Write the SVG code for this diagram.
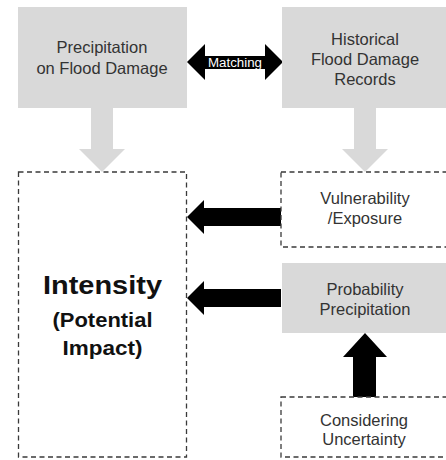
<svg xmlns="http://www.w3.org/2000/svg" width="446" height="460" viewBox="0 0 446 460">
  <style>
    .gray { fill: #d9d9d9; }
    .dash { fill: #ffffff; stroke: #3a3a3a; stroke-width: 1.3; stroke-dasharray: 5 3.5; }
    .lbl { font-family: "Liberation Sans", Arial, sans-serif; font-size: 16.5px; fill: #333333; text-anchor: middle; }
    .big { font-family: "Liberation Sans", Arial, sans-serif; font-weight: bold; fill: #111111; text-anchor: middle; }
    .blk { fill: #000000; }
    .lt { fill: #d9d9d9; }
  </style>
  <rect width="446" height="460" fill="#ffffff"/>

  <g id="connectors">
    <!-- light down arrows -->
    <polygon class="lt" points="91,108 113,108 113,149 125,149 102,172 79,149 91,149"/>
    <polygon class="lt" points="354,108 376,108 376,149 388,149 365,172 342,149 354,149"/>
    <!-- matching double arrow -->
    <polygon class="blk" points="187,62 205,44 205,56 265,56 265,44 283,62 265,80 265,69 205,69 205,80"/>
    <text x="235" y="67" font-family="'Liberation Sans', Arial, sans-serif" font-size="12" fill="#ffffff" text-anchor="middle" textLength="54" lengthAdjust="spacingAndGlyphs">Matching</text>
    <!-- left arrows -->
    <polygon class="blk" points="187,217 204,200 204,208 281,208 281,226 204,226 204,234"/>
    <polygon class="blk" points="187,298 204,281 204,289 281,289 281,307 204,307 204,315"/>
    <!-- up arrow -->
    <polygon class="blk" points="365,333 387,357 376,357 376,397 353,397 353,357 343,357"/>
  </g>

  <g id="precipitation-flood-damage">
    <rect class="gray" x="18" y="7" width="169" height="101"/>
    <text class="lbl" x="102" y="53">Precipitation</text>
    <text class="lbl" x="102" y="74">on Flood Damage</text>
  </g>

  <g id="historical-records">
    <rect class="gray" x="282" y="7" width="170" height="101"/>
    <text class="lbl" x="365" y="45">Historical</text>
    <text class="lbl" x="365" y="65">Flood Damage</text>
    <text class="lbl" x="365" y="85">Records</text>
  </g>

  <g id="intensity">
    <rect class="dash" x="18.5" y="172" width="168" height="285"/>
    <text class="big" x="102.5" y="294" font-size="26" textLength="119" lengthAdjust="spacingAndGlyphs">Intensity</text>
    <text class="big" x="102.5" y="326.5" font-size="21" textLength="100" lengthAdjust="spacingAndGlyphs">(Potential</text>
    <text class="big" x="102.5" y="355" font-size="21" textLength="80" lengthAdjust="spacingAndGlyphs">Impact)</text>
  </g>

  <g id="vulnerability-exposure">
    <rect class="dash" x="281" y="172" width="170" height="75"/>
    <text class="lbl" x="365" y="204">Vulnerability</text>
    <text class="lbl" x="365" y="224">/Exposure</text>
  </g>

  <g id="probability-precipitation">
    <rect class="gray" x="282" y="263" width="170" height="70"/>
    <text class="lbl" x="365" y="295">Probability</text>
    <text class="lbl" x="365" y="315">Precipitation</text>
  </g>

  <g id="considering-uncertainty">
    <rect class="dash" x="281" y="397" width="170" height="60"/>
    <text class="lbl" x="364" y="426">Considering</text>
    <text class="lbl" x="364" y="445">Uncertainty</text>
  </g>
</svg>
